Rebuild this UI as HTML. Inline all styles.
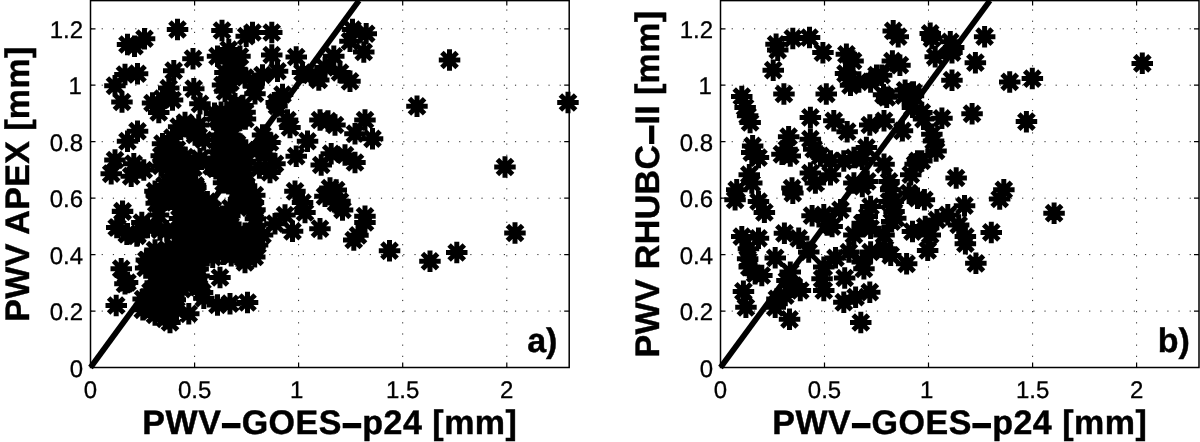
<!DOCTYPE html>
<html><head><meta charset="utf-8"><title>PWV scatter</title>
<style>
html,body{margin:0;padding:0;background:#fff;overflow:hidden}
svg{display:block;will-change:transform;-webkit-font-smoothing:antialiased}
text{text-rendering:geometricPrecision}
.t{font-family:"Liberation Sans",sans-serif;font-size:24px;fill:#000;stroke:#000;stroke-width:.3px}
.l{font-family:"Liberation Sans",sans-serif;font-size:34px;font-weight:bold;fill:#000;stroke:#000;stroke-width:.45px}
.d{stroke-width:1.5px}
.g{stroke:#000;stroke-width:1;stroke-dasharray:1.2 9.97;opacity:.85}
</style></head><body>
<svg width="1200" height="442" viewBox="0 0 1200 442">
<rect width="1200" height="442" fill="#fff"/>
<g>
<line x1="194.6" y1="0.6" x2="194.6" y2="367.5" class="g" stroke-dashoffset="2.3"/>
<line x1="298.6" y1="0.6" x2="298.6" y2="367.5" class="g" stroke-dashoffset="2.3"/>
<line x1="402.7" y1="0.6" x2="402.7" y2="367.5" class="g" stroke-dashoffset="2.3"/>
<line x1="506.8" y1="0.6" x2="506.8" y2="367.5" class="g" stroke-dashoffset="2.3"/>
<line x1="90.5" y1="311.1" x2="569.2" y2="311.1" class="g"/>
<line x1="90.5" y1="254.6" x2="569.2" y2="254.6" class="g"/>
<line x1="90.5" y1="198.2" x2="569.2" y2="198.2" class="g"/>
<line x1="90.5" y1="141.7" x2="569.2" y2="141.7" class="g"/>
<line x1="90.5" y1="85.2" x2="569.2" y2="85.2" class="g"/>
<line x1="90.5" y1="28.8" x2="569.2" y2="28.8" class="g"/>
<line x1="90.5" y1="367.5" x2="359.0" y2="0.6" stroke="#000" stroke-width="5.7"/>
<path d="M166.8 29.5h21.5M177.5 18.8v21.5M169.9 21.9l15.2 15.2M169.9 37.1l15.2 -15.2M133.8 38.8h21.5M144.5 28.0v21.5M136.9 31.1l15.2 15.2M136.9 46.4l15.2 -15.2M116.8 44.5h21.5M127.5 33.8v21.5M119.9 36.9l15.2 15.2M119.9 52.1l15.2 -15.2M123.8 46.2h21.5M134.5 35.5v21.5M126.9 38.6l15.2 15.2M126.9 53.9l15.2 -15.2M211.2 30.5h21.5M222.0 19.8v21.5M214.4 22.9l15.2 15.2M214.4 38.1l15.2 -15.2M235.5 36.2h21.5M246.2 25.5v21.5M238.6 28.6l15.2 15.2M238.6 43.9l15.2 -15.2M241.8 32.5h21.5M252.5 21.8v21.5M244.9 24.9l15.2 15.2M244.9 40.1l15.2 -15.2M261.0 32.5h21.5M271.8 21.8v21.5M264.1 24.9l15.2 15.2M264.1 40.1l15.2 -15.2M182.2 58.8h21.5M193.0 48.0v21.5M185.4 51.1l15.2 15.2M185.4 66.4l15.2 -15.2M163.0 70.8h21.5M173.8 60.0v21.5M166.1 63.1l15.2 15.2M166.1 78.4l15.2 -15.2M126.8 73.8h21.5M137.5 63.0v21.5M129.9 66.1l15.2 15.2M129.9 81.4l15.2 -15.2M114.2 74.5h21.5M125.0 63.8v21.5M117.4 66.9l15.2 15.2M117.4 82.1l15.2 -15.2M104.2 85.8h21.5M115.0 75.0v21.5M107.4 78.1l15.2 15.2M107.4 93.4l15.2 -15.2M111.2 102.0h21.5M122.0 91.2v21.5M114.4 94.4l15.2 15.2M114.4 109.6l15.2 -15.2M158.0 88.0h21.5M168.8 77.2v21.5M161.1 80.4l15.2 15.2M161.1 95.6l15.2 -15.2M183.0 88.8h21.5M193.8 78.0v21.5M186.1 81.1l15.2 15.2M186.1 96.4l15.2 -15.2M141.8 103.0h21.5M152.5 92.2v21.5M144.9 95.4l15.2 15.2M144.9 110.6l15.2 -15.2M161.8 100.0h21.5M172.5 89.2v21.5M164.9 92.4l15.2 15.2M164.9 107.6l15.2 -15.2M151.8 98.8h21.5M162.5 88.0v21.5M154.9 91.1l15.2 15.2M154.9 106.4l15.2 -15.2M189.2 103.8h21.5M200.0 93.0v21.5M192.4 96.1l15.2 15.2M192.4 111.4l15.2 -15.2M218.0 49.5h21.5M228.8 38.8v21.5M221.1 41.9l15.2 15.2M221.1 57.1l15.2 -15.2M206.8 56.2h21.5M217.5 45.5v21.5M209.9 48.6l15.2 15.2M209.9 63.9l15.2 -15.2M229.2 56.2h21.5M240.0 45.5v21.5M232.4 48.6l15.2 15.2M232.4 63.9l15.2 -15.2M218.5 62.0h21.5M229.2 51.2v21.5M221.6 54.4l15.2 15.2M221.6 69.6l15.2 -15.2M214.2 72.5h21.5M225.0 61.8v21.5M217.4 64.9l15.2 15.2M217.4 80.1l15.2 -15.2M226.8 70.0h21.5M237.5 59.2v21.5M229.9 62.4l15.2 15.2M229.9 77.6l15.2 -15.2M211.8 85.0h21.5M222.5 74.2v21.5M214.9 77.4l15.2 15.2M214.9 92.6l15.2 -15.2M219.8 82.5h21.5M230.5 71.8v21.5M222.9 74.9l15.2 15.2M222.9 90.1l15.2 -15.2M234.2 77.5h21.5M245.0 66.8v21.5M237.4 69.9l15.2 15.2M237.4 85.1l15.2 -15.2M214.2 91.2h21.5M225.0 80.5v21.5M217.4 83.6l15.2 15.2M217.4 98.9l15.2 -15.2M243.0 86.2h21.5M253.8 75.5v21.5M246.1 78.6l15.2 15.2M246.1 93.9l15.2 -15.2M244.2 93.8h21.5M255.0 83.0v21.5M247.4 86.1l15.2 15.2M247.4 101.4l15.2 -15.2M251.8 75.0h21.5M262.5 64.2v21.5M254.9 67.4l15.2 15.2M254.9 82.6l15.2 -15.2M261.0 55.0h21.5M271.8 44.2v21.5M264.1 47.4l15.2 15.2M264.1 62.6l15.2 -15.2M266.8 71.2h21.5M277.5 60.5v21.5M269.9 63.6l15.2 15.2M269.9 78.9l15.2 -15.2M285.5 57.0h21.5M296.2 46.2v21.5M288.6 49.4l15.2 15.2M288.6 64.6l15.2 -15.2M291.8 72.5h21.5M302.5 61.8v21.5M294.9 64.9l15.2 15.2M294.9 80.1l15.2 -15.2M271.8 94.5h21.5M282.5 83.8v21.5M274.9 86.9l15.2 15.2M274.9 102.1l15.2 -15.2M265.5 102.5h21.5M276.2 91.8v21.5M268.6 94.9l15.2 15.2M268.6 110.1l15.2 -15.2M224.2 103.8h21.5M235.0 93.0v21.5M227.4 96.1l15.2 15.2M227.4 111.4l15.2 -15.2M232.2 105.5h21.5M243.0 94.8v21.5M235.4 97.9l15.2 15.2M235.4 113.1l15.2 -15.2M341.8 29.5h21.5M352.5 18.8v21.5M344.9 21.9l15.2 15.2M344.9 37.1l15.2 -15.2M355.5 33.8h21.5M366.2 23.0v21.5M358.6 26.1l15.2 15.2M358.6 41.4l15.2 -15.2M339.2 41.2h21.5M350.0 30.5v21.5M342.4 33.6l15.2 15.2M342.4 48.9l15.2 -15.2M353.0 52.0h21.5M363.8 41.2v21.5M356.1 44.4l15.2 15.2M356.1 59.6l15.2 -15.2M323.0 56.2h21.5M333.8 45.5v21.5M326.1 48.6l15.2 15.2M326.1 63.9l15.2 -15.2M314.2 67.5h21.5M325.0 56.8v21.5M317.4 59.9l15.2 15.2M317.4 75.1l15.2 -15.2M308.0 80.0h21.5M318.8 69.2v21.5M311.1 72.4l15.2 15.2M311.1 87.6l15.2 -15.2M329.2 72.5h21.5M340.0 61.8v21.5M332.4 64.9l15.2 15.2M332.4 80.1l15.2 -15.2M339.2 81.2h21.5M350.0 70.5v21.5M342.4 73.6l15.2 15.2M342.4 88.9l15.2 -15.2M300.5 75.0h21.5M311.2 64.2v21.5M303.6 67.4l15.2 15.2M303.6 82.6l15.2 -15.2M148.0 112.5h21.5M158.8 101.8v21.5M151.1 104.9l15.2 15.2M151.1 120.1l15.2 -15.2M126.8 131.2h21.5M137.5 120.5v21.5M129.9 123.6l15.2 15.2M129.9 138.9l15.2 -15.2M116.8 141.2h21.5M127.5 130.5v21.5M119.9 133.6l15.2 15.2M119.9 148.9l15.2 -15.2M104.2 160.0h21.5M115.0 149.2v21.5M107.4 152.4l15.2 15.2M107.4 167.6l15.2 -15.2M100.5 173.8h21.5M111.2 163.0v21.5M103.6 166.1l15.2 15.2M103.6 181.4l15.2 -15.2M123.0 163.8h21.5M133.8 153.0v21.5M126.1 156.1l15.2 15.2M126.1 171.4l15.2 -15.2M120.5 176.2h21.5M131.2 165.5v21.5M123.6 168.6l15.2 15.2M123.6 183.9l15.2 -15.2M133.0 170.0h21.5M143.8 159.2v21.5M136.1 162.4l15.2 15.2M136.1 177.6l15.2 -15.2M111.8 211.2h21.5M122.5 200.5v21.5M114.9 203.6l15.2 15.2M114.9 218.9l15.2 -15.2M144.2 191.2h21.5M155.0 180.5v21.5M147.4 183.6l15.2 15.2M147.4 198.9l15.2 -15.2M174.2 122.5h21.5M185.0 111.8v21.5M177.4 114.9l15.2 15.2M177.4 130.1l15.2 -15.2M161.8 137.5h21.5M172.5 126.8v21.5M164.9 129.9l15.2 15.2M164.9 145.1l15.2 -15.2M151.8 143.8h21.5M162.5 133.0v21.5M154.9 136.1l15.2 15.2M154.9 151.4l15.2 -15.2M184.2 135.0h21.5M195.0 124.2v21.5M187.4 127.4l15.2 15.2M187.4 142.6l15.2 -15.2M154.2 155.0h21.5M165.0 144.2v21.5M157.4 147.4l15.2 15.2M157.4 162.6l15.2 -15.2M189.2 158.8h21.5M200.0 148.0v21.5M192.4 151.1l15.2 15.2M192.4 166.4l15.2 -15.2M209.2 117.5h21.5M220.0 106.8v21.5M212.4 109.9l15.2 15.2M212.4 125.1l15.2 -15.2M229.2 120.0h21.5M240.0 109.2v21.5M232.4 112.4l15.2 15.2M232.4 127.6l15.2 -15.2M219.2 135.0h21.5M230.0 124.2v21.5M222.4 127.4l15.2 15.2M222.4 142.6l15.2 -15.2M276.8 120.0h21.5M287.5 109.2v21.5M279.9 112.4l15.2 15.2M279.9 127.6l15.2 -15.2M279.2 127.5h21.5M290.0 116.8v21.5M282.4 119.9l15.2 15.2M282.4 135.1l15.2 -15.2M251.8 135.0h21.5M262.5 124.2v21.5M254.9 127.4l15.2 15.2M254.9 142.6l15.2 -15.2M259.2 142.5h21.5M270.0 131.8v21.5M262.4 134.9l15.2 15.2M262.4 150.1l15.2 -15.2M296.8 141.2h21.5M307.5 130.5v21.5M299.9 133.6l15.2 15.2M299.9 148.9l15.2 -15.2M285.5 156.2h21.5M296.2 145.5v21.5M288.6 148.6l15.2 15.2M288.6 163.9l15.2 -15.2M264.2 163.8h21.5M275.0 153.0v21.5M267.4 156.1l15.2 15.2M267.4 171.4l15.2 -15.2M259.2 172.5h21.5M270.0 161.8v21.5M262.4 164.9l15.2 15.2M262.4 180.1l15.2 -15.2M309.2 120.0h21.5M320.0 109.2v21.5M312.4 112.4l15.2 15.2M312.4 127.6l15.2 -15.2M324.2 125.0h21.5M335.0 114.2v21.5M327.4 117.4l15.2 15.2M327.4 132.6l15.2 -15.2M354.2 120.0h21.5M365.0 109.2v21.5M357.4 112.4l15.2 15.2M357.4 127.6l15.2 -15.2M344.2 133.8h21.5M355.0 123.0v21.5M347.4 126.1l15.2 15.2M347.4 141.4l15.2 -15.2M361.8 138.8h21.5M372.5 128.0v21.5M364.9 131.1l15.2 15.2M364.9 146.4l15.2 -15.2M320.5 153.8h21.5M331.2 143.0v21.5M323.6 146.1l15.2 15.2M323.6 161.4l15.2 -15.2M334.2 155.0h21.5M345.0 144.2v21.5M337.4 147.4l15.2 15.2M337.4 162.6l15.2 -15.2M310.5 165.0h21.5M321.2 154.2v21.5M313.6 157.4l15.2 15.2M313.6 172.6l15.2 -15.2M344.2 162.5h21.5M355.0 151.8v21.5M347.4 154.9l15.2 15.2M347.4 170.1l15.2 -15.2M284.2 191.2h21.5M295.0 180.5v21.5M287.4 183.6l15.2 15.2M287.4 198.9l15.2 -15.2M291.8 202.5h21.5M302.5 191.8v21.5M294.9 194.9l15.2 15.2M294.9 210.1l15.2 -15.2M325.5 190.0h21.5M336.2 179.2v21.5M328.6 182.4l15.2 15.2M328.6 197.6l15.2 -15.2M314.2 196.2h21.5M325.0 185.5v21.5M317.4 188.6l15.2 15.2M317.4 203.9l15.2 -15.2M329.2 201.2h21.5M340.0 190.5v21.5M332.4 193.6l15.2 15.2M332.4 208.9l15.2 -15.2M331.8 210.0h21.5M342.5 199.2v21.5M334.9 202.4l15.2 15.2M334.9 217.6l15.2 -15.2M354.2 216.2h21.5M365.0 205.5v21.5M357.4 208.6l15.2 15.2M357.4 223.9l15.2 -15.2M274.2 215.0h21.5M285.0 204.2v21.5M277.4 207.4l15.2 15.2M277.4 222.6l15.2 -15.2M294.2 212.5h21.5M305.0 201.8v21.5M297.4 204.9l15.2 15.2M297.4 220.1l15.2 -15.2M105.5 305.5h21.5M116.2 294.8v21.5M108.6 297.9l15.2 15.2M108.6 313.1l15.2 -15.2M110.5 268.8h21.5M121.2 258.0v21.5M113.6 261.1l15.2 15.2M113.6 276.4l15.2 -15.2M116.8 282.5h21.5M127.5 271.8v21.5M119.9 274.9l15.2 15.2M119.9 290.1l15.2 -15.2M106.8 227.5h21.5M117.5 216.8v21.5M109.9 219.9l15.2 15.2M109.9 235.1l15.2 -15.2M116.8 233.8h21.5M127.5 223.0v21.5M119.9 226.1l15.2 15.2M119.9 241.4l15.2 -15.2M126.8 235.0h21.5M137.5 224.2v21.5M129.9 227.4l15.2 15.2M129.9 242.6l15.2 -15.2M136.8 227.5h21.5M147.5 216.8v21.5M139.9 219.9l15.2 15.2M139.9 235.1l15.2 -15.2M149.2 230.0h21.5M160.0 219.2v21.5M152.4 222.4l15.2 15.2M152.4 237.6l15.2 -15.2M144.2 250.0h21.5M155.0 239.2v21.5M147.4 242.4l15.2 15.2M147.4 257.6l15.2 -15.2M136.8 260.0h21.5M147.5 249.2v21.5M139.9 252.4l15.2 15.2M139.9 267.6l15.2 -15.2M234.2 262.5h21.5M245.0 251.8v21.5M237.4 254.9l15.2 15.2M237.4 270.1l15.2 -15.2M241.8 252.5h21.5M252.5 241.8v21.5M244.9 244.9l15.2 15.2M244.9 260.1l15.2 -15.2M246.8 245.0h21.5M257.5 234.2v21.5M249.9 237.4l15.2 15.2M249.9 252.6l15.2 -15.2M251.8 235.0h21.5M262.5 224.2v21.5M254.9 227.4l15.2 15.2M254.9 242.6l15.2 -15.2M209.2 277.5h21.5M220.0 266.8v21.5M212.4 269.9l15.2 15.2M212.4 285.1l15.2 -15.2M191.8 292.5h21.5M202.5 281.8v21.5M194.9 284.9l15.2 15.2M194.9 300.1l15.2 -15.2M186.8 285.0h21.5M197.5 274.2v21.5M189.9 277.4l15.2 15.2M189.9 292.6l15.2 -15.2M206.8 305.0h21.5M217.5 294.2v21.5M209.9 297.4l15.2 15.2M209.9 312.6l15.2 -15.2M219.2 303.8h21.5M230.0 293.0v21.5M222.4 296.1l15.2 15.2M222.4 311.4l15.2 -15.2M236.8 302.5h21.5M247.5 291.8v21.5M239.9 294.9l15.2 15.2M239.9 310.1l15.2 -15.2M178.0 313.8h21.5M188.8 303.0v21.5M181.1 306.1l15.2 15.2M181.1 321.4l15.2 -15.2M154.2 318.8h21.5M165.0 308.0v21.5M157.4 311.1l15.2 15.2M157.4 326.4l15.2 -15.2M144.2 315.0h21.5M155.0 304.2v21.5M147.4 307.4l15.2 15.2M147.4 322.6l15.2 -15.2M159.2 322.5h21.5M170.0 311.8v21.5M162.4 314.9l15.2 15.2M162.4 330.1l15.2 -15.2M281.8 231.2h21.5M292.5 220.5v21.5M284.9 223.6l15.2 15.2M284.9 238.9l15.2 -15.2M309.2 228.8h21.5M320.0 218.0v21.5M312.4 221.1l15.2 15.2M312.4 236.4l15.2 -15.2M343.0 240.0h21.5M353.8 229.2v21.5M346.1 232.4l15.2 15.2M346.1 247.6l15.2 -15.2M354.2 222.5h21.5M365.0 211.8v21.5M357.4 214.9l15.2 15.2M357.4 230.1l15.2 -15.2M264.2 223.8h21.5M275.0 213.0v21.5M267.4 216.1l15.2 15.2M267.4 231.4l15.2 -15.2M438.8 60.0h21.5M449.5 49.2v21.5M441.9 52.4l15.2 15.2M441.9 67.6l15.2 -15.2M406.2 106.2h21.5M417.0 95.5v21.5M409.4 98.6l15.2 15.2M409.4 113.9l15.2 -15.2M557.2 102.5h21.5M568.0 91.8v21.5M560.4 94.9l15.2 15.2M560.4 110.1l15.2 -15.2M494.2 167.0h21.5M505.0 156.2v21.5M497.4 159.4l15.2 15.2M497.4 174.6l15.2 -15.2M378.8 250.8h21.5M389.5 240.0v21.5M381.9 243.1l15.2 15.2M381.9 258.4l15.2 -15.2M419.2 261.2h21.5M430.0 250.5v21.5M422.4 253.6l15.2 15.2M422.4 268.9l15.2 -15.2M446.0 252.5h21.5M456.8 241.8v21.5M449.1 244.9l15.2 15.2M449.1 260.1l15.2 -15.2M504.2 233.0h21.5M515.0 222.2v21.5M507.4 225.4l15.2 15.2M507.4 240.6l15.2 -15.2M106.0 227.5h21.5M116.7 216.8v21.5M109.1 219.9l15.2 15.2M109.1 235.1l15.2 -15.2M116.0 234.2h21.5M126.8 223.4v21.5M119.2 226.6l15.2 15.2M119.2 241.8l15.2 -15.2M126.1 235.9h21.5M136.8 225.2v21.5M129.2 228.3l15.2 15.2M129.2 243.5l15.2 -15.2M131.1 222.5h21.5M141.8 211.8v21.5M134.2 214.9l15.2 15.2M134.2 230.1l15.2 -15.2M111.8 211.6h21.5M122.6 200.8v21.5M115.0 204.0l15.2 15.2M115.0 219.2l15.2 -15.2M193.1 298.2h21.5M203.8 287.4v21.5M196.2 290.6l15.2 15.2M196.2 305.8l15.2 -15.2M114.2 283.8h21.5M125.0 273.0v21.5M117.4 276.1l15.2 15.2M117.4 291.4l15.2 -15.2M177.9 128.4h21.5M188.7 117.7v21.5M181.1 120.8l15.2 15.2M181.1 136.0l15.2 -15.2M167.9 126.7h21.5M178.7 116.0v21.5M171.1 119.1l15.2 15.2M171.1 134.3l15.2 -15.2M187.9 125.0h21.5M198.7 114.2v21.5M191.1 117.4l15.2 15.2M191.1 132.6l15.2 -15.2M193.1 140.0h21.5M203.8 129.2v21.5M196.2 132.4l15.2 15.2M196.2 147.6l15.2 -15.2M147.8 215.0h21.5M158.6 204.2v21.5M151.0 207.4l15.2 15.2M151.0 222.6l15.2 -15.2M254.6 155.0h21.5M265.3 144.2v21.5M257.7 147.4l15.2 15.2M257.7 162.6l15.2 -15.2M248.6 168.0h21.5M259.4 157.2v21.5M251.8 160.4l15.2 15.2M251.8 175.6l15.2 -15.2M247.2 150.0h21.5M258.0 139.2v21.5M250.4 142.4l15.2 15.2M250.4 157.6l15.2 -15.2M317.2 121.0h21.5M328.0 110.2v21.5M320.4 113.4l15.2 15.2M320.4 128.6l15.2 -15.2M319.2 188.0h21.5M330.0 177.2v21.5M322.4 180.4l15.2 15.2M322.4 195.6l15.2 -15.2M325.2 203.0h21.5M336.0 192.2v21.5M328.4 195.4l15.2 15.2M328.4 210.6l15.2 -15.2M266.2 106.0h21.5M277.0 95.2v21.5M269.4 98.4l15.2 15.2M269.4 113.6l15.2 -15.2M347.2 235.3h21.5M358.0 224.6v21.5M350.4 227.7l15.2 15.2M350.4 242.9l15.2 -15.2M203.8 113.4h21.5M214.5 102.6v21.5M206.9 105.8l15.2 15.2M206.9 121.0l15.2 -15.2M206.3 119.0h21.5M217.1 108.3v21.5M209.5 111.4l15.2 15.2M209.5 126.6l15.2 -15.2M206.6 151.7h21.5M217.3 141.0v21.5M209.7 144.1l15.2 15.2M209.7 159.3l15.2 -15.2M206.3 158.0h21.5M217.0 147.3v21.5M209.4 150.4l15.2 15.2M209.4 165.6l15.2 -15.2M205.0 168.9h21.5M215.8 158.1v21.5M208.2 161.3l15.2 15.2M208.2 176.5l15.2 -15.2M210.4 112.2h21.5M221.1 101.4v21.5M213.5 104.6l15.2 15.2M213.5 119.8l15.2 -15.2M214.0 119.5h21.5M224.8 108.8v21.5M217.2 111.9l15.2 15.2M217.2 127.1l15.2 -15.2M211.1 127.7h21.5M221.9 116.9v21.5M214.3 120.1l15.2 15.2M214.3 135.3l15.2 -15.2M210.4 134.9h21.5M221.1 124.1v21.5M213.5 127.3l15.2 15.2M213.5 142.5l15.2 -15.2M212.0 144.0h21.5M222.8 133.2v21.5M215.2 136.4l15.2 15.2M215.2 151.6l15.2 -15.2M211.2 150.9h21.5M221.9 140.2v21.5M214.3 143.3l15.2 15.2M214.3 158.5l15.2 -15.2M211.1 159.8h21.5M221.9 149.1v21.5M214.3 152.2l15.2 15.2M214.3 167.4l15.2 -15.2M211.4 166.1h21.5M222.2 155.3v21.5M214.6 158.5l15.2 15.2M214.6 173.7l15.2 -15.2M213.6 176.2h21.5M224.4 165.5v21.5M216.7 168.6l15.2 15.2M216.7 183.8l15.2 -15.2M212.8 182.7h21.5M223.6 172.0v21.5M216.0 175.1l15.2 15.2M216.0 190.3l15.2 -15.2M221.2 113.4h21.5M232.0 102.7v21.5M224.4 105.8l15.2 15.2M224.4 121.0l15.2 -15.2M217.7 119.3h21.5M228.5 108.6v21.5M220.9 111.7l15.2 15.2M220.9 126.9l15.2 -15.2M220.1 128.8h21.5M230.9 118.1v21.5M223.3 121.2l15.2 15.2M223.3 136.4l15.2 -15.2M221.0 135.7h21.5M231.7 124.9v21.5M224.1 128.1l15.2 15.2M224.1 143.3l15.2 -15.2M220.6 144.7h21.5M231.3 133.9v21.5M223.7 137.1l15.2 15.2M223.7 152.3l15.2 -15.2M218.5 152.4h21.5M229.2 141.6v21.5M221.6 144.7l15.2 15.2M221.6 160.0l15.2 -15.2M220.8 161.4h21.5M231.5 150.6v21.5M223.9 153.8l15.2 15.2M223.9 169.0l15.2 -15.2M219.3 168.4h21.5M230.0 157.6v21.5M222.4 160.8l15.2 15.2M222.4 176.0l15.2 -15.2M217.4 175.0h21.5M228.1 164.2v21.5M220.5 167.4l15.2 15.2M220.5 182.6l15.2 -15.2M220.4 183.7h21.5M231.2 172.9v21.5M223.6 176.1l15.2 15.2M223.6 191.3l15.2 -15.2M224.9 112.2h21.5M235.7 101.4v21.5M228.1 104.6l15.2 15.2M228.1 119.8l15.2 -15.2M227.1 120.7h21.5M237.8 109.9v21.5M230.2 113.1l15.2 15.2M230.2 128.3l15.2 -15.2M226.3 143.6h21.5M237.1 132.8v21.5M229.5 136.0l15.2 15.2M229.5 151.2l15.2 -15.2M226.2 150.1h21.5M237.0 139.4v21.5M229.4 142.5l15.2 15.2M229.4 157.7l15.2 -15.2M224.4 160.8h21.5M235.2 150.1v21.5M227.6 153.2l15.2 15.2M227.6 168.4l15.2 -15.2M228.2 168.4h21.5M238.9 157.6v21.5M231.3 160.8l15.2 15.2M231.3 176.0l15.2 -15.2M225.8 174.7h21.5M236.6 163.9v21.5M229.0 167.1l15.2 15.2M229.0 182.3l15.2 -15.2M226.3 185.9h21.5M237.0 175.2v21.5M229.4 178.3l15.2 15.2M229.4 193.5l15.2 -15.2M234.3 112.2h21.5M245.1 101.4v21.5M237.5 104.6l15.2 15.2M237.5 119.8l15.2 -15.2M234.7 118.9h21.5M245.4 108.2v21.5M237.8 111.3l15.2 15.2M237.8 126.5l15.2 -15.2M235.1 150.0h21.5M245.8 139.3v21.5M238.2 142.4l15.2 15.2M238.2 157.6l15.2 -15.2M234.4 161.3h21.5M245.1 150.5v21.5M237.5 153.7l15.2 15.2M237.5 168.9l15.2 -15.2M234.8 169.0h21.5M245.5 158.2v21.5M237.9 161.4l15.2 15.2M237.9 176.6l15.2 -15.2M233.5 183.7h21.5M244.2 173.0v21.5M236.6 176.1l15.2 15.2M236.6 191.3l15.2 -15.2M150.5 155.8h21.5M161.3 145.0v21.5M153.7 148.2l15.2 15.2M153.7 163.4l15.2 -15.2M150.3 165.9h21.5M161.0 155.2v21.5M153.4 158.3l15.2 15.2M153.4 173.5l15.2 -15.2M159.2 147.8h21.5M169.9 137.1v21.5M162.3 140.2l15.2 15.2M162.3 155.4l15.2 -15.2M156.9 155.9h21.5M167.6 145.2v21.5M160.0 148.3l15.2 15.2M160.0 163.5l15.2 -15.2M157.5 166.3h21.5M168.2 155.6v21.5M160.6 158.7l15.2 15.2M160.6 173.9l15.2 -15.2M160.2 176.2h21.5M170.9 165.4v21.5M163.3 168.6l15.2 15.2M163.3 183.8l15.2 -15.2M159.9 185.3h21.5M170.7 174.5v21.5M163.1 177.7l15.2 15.2M163.1 192.9l15.2 -15.2M166.3 149.4h21.5M177.0 138.6v21.5M169.4 141.8l15.2 15.2M169.4 157.0l15.2 -15.2M167.9 155.3h21.5M178.7 144.6v21.5M171.1 147.7l15.2 15.2M171.1 162.9l15.2 -15.2M165.3 164.1h21.5M176.1 153.3v21.5M168.5 156.5l15.2 15.2M168.5 171.7l15.2 -15.2M168.3 174.0h21.5M179.0 163.2v21.5M171.4 166.4l15.2 15.2M171.4 181.6l15.2 -15.2M165.7 184.5h21.5M176.4 173.7v21.5M168.8 176.9l15.2 15.2M168.8 192.1l15.2 -15.2M174.4 157.1h21.5M185.1 146.4v21.5M177.5 149.5l15.2 15.2M177.5 164.7l15.2 -15.2M174.4 165.1h21.5M185.2 154.3v21.5M177.6 157.5l15.2 15.2M177.6 172.7l15.2 -15.2M176.6 174.8h21.5M187.3 164.1v21.5M179.7 167.2l15.2 15.2M179.7 182.4l15.2 -15.2M175.0 183.9h21.5M185.8 173.1v21.5M178.2 176.3l15.2 15.2M178.2 191.5l15.2 -15.2M182.7 167.6h21.5M193.4 156.8v21.5M185.8 160.0l15.2 15.2M185.8 175.2l15.2 -15.2M184.7 185.3h21.5M195.4 174.5v21.5M187.8 177.7l15.2 15.2M187.8 192.9l15.2 -15.2M200.8 166.3h21.5M211.6 155.6v21.5M204.0 158.7l15.2 15.2M204.0 173.9l15.2 -15.2M145.5 195.2h21.5M156.2 184.5v21.5M148.6 187.6l15.2 15.2M148.6 202.8l15.2 -15.2M145.5 203.3h21.5M156.2 192.6v21.5M148.6 195.7l15.2 15.2M148.6 210.9l15.2 -15.2M147.1 256.0h21.5M157.8 245.3v21.5M150.2 248.4l15.2 15.2M150.2 263.6l15.2 -15.2M153.8 185.4h21.5M164.6 174.6v21.5M157.0 177.8l15.2 15.2M157.0 193.0l15.2 -15.2M153.2 194.5h21.5M163.9 183.7v21.5M156.3 186.9l15.2 15.2M156.3 202.1l15.2 -15.2M154.1 200.3h21.5M164.8 189.6v21.5M157.2 192.7l15.2 15.2M157.2 207.9l15.2 -15.2M155.9 230.7h21.5M166.7 220.0v21.5M159.1 223.1l15.2 15.2M159.1 238.3l15.2 -15.2M156.3 249.4h21.5M167.0 238.6v21.5M159.4 241.8l15.2 15.2M159.4 257.0l15.2 -15.2M153.7 254.9h21.5M164.4 244.1v21.5M156.8 247.3l15.2 15.2M156.8 262.5l15.2 -15.2M163.1 187.4h21.5M173.9 176.6v21.5M166.3 179.7l15.2 15.2M166.3 195.0l15.2 -15.2M164.1 193.2h21.5M174.9 182.4v21.5M167.3 185.6l15.2 15.2M167.3 200.8l15.2 -15.2M163.9 202.3h21.5M174.7 191.6v21.5M167.1 194.7l15.2 15.2M167.1 209.9l15.2 -15.2M164.1 231.5h21.5M174.8 220.8v21.5M167.2 223.9l15.2 15.2M167.2 239.1l15.2 -15.2M163.8 247.7h21.5M174.5 236.9v21.5M166.9 240.1l15.2 15.2M166.9 255.3l15.2 -15.2M161.8 255.2h21.5M172.5 244.4v21.5M164.9 247.6l15.2 15.2M164.9 262.8l15.2 -15.2M172.0 186.4h21.5M182.7 175.7v21.5M175.1 178.8l15.2 15.2M175.1 194.0l15.2 -15.2M172.3 195.3h21.5M183.1 184.6v21.5M175.5 187.7l15.2 15.2M175.5 202.9l15.2 -15.2M169.0 201.8h21.5M179.8 191.0v21.5M172.2 194.2l15.2 15.2M172.2 209.4l15.2 -15.2M168.9 207.5h21.5M179.7 196.7v21.5M172.1 199.9l15.2 15.2M172.1 215.1l15.2 -15.2M168.8 218.6h21.5M179.5 207.8v21.5M171.9 211.0l15.2 15.2M171.9 226.2l15.2 -15.2M171.7 226.2h21.5M182.4 215.5v21.5M174.8 218.6l15.2 15.2M174.8 233.8l15.2 -15.2M169.9 233.1h21.5M180.6 222.4v21.5M173.0 225.5l15.2 15.2M173.0 240.7l15.2 -15.2M171.6 240.0h21.5M182.4 229.2v21.5M174.8 232.4l15.2 15.2M174.8 247.6l15.2 -15.2M170.8 247.1h21.5M181.5 236.4v21.5M173.9 239.5l15.2 15.2M173.9 254.7l15.2 -15.2M168.8 255.1h21.5M179.6 244.3v21.5M172.0 247.5l15.2 15.2M172.0 262.7l15.2 -15.2M180.1 186.3h21.5M190.9 175.5v21.5M183.3 178.7l15.2 15.2M183.3 193.9l15.2 -15.2M180.3 193.6h21.5M191.0 182.9v21.5M183.4 186.0l15.2 15.2M183.4 201.2l15.2 -15.2M177.7 202.7h21.5M188.4 192.0v21.5M180.8 195.1l15.2 15.2M180.8 210.3l15.2 -15.2M179.9 207.4h21.5M190.6 196.6v21.5M183.0 199.8l15.2 15.2M183.0 215.0l15.2 -15.2M179.3 215.5h21.5M190.0 204.7v21.5M182.4 207.9l15.2 15.2M182.4 223.1l15.2 -15.2M177.0 226.4h21.5M187.8 215.7v21.5M180.2 218.8l15.2 15.2M180.2 234.0l15.2 -15.2M176.7 231.6h21.5M187.5 220.9v21.5M179.9 224.0l15.2 15.2M179.9 239.2l15.2 -15.2M180.5 240.1h21.5M191.3 229.4v21.5M183.7 232.5l15.2 15.2M183.7 247.7l15.2 -15.2M177.0 246.9h21.5M187.8 236.1v21.5M180.2 239.3l15.2 15.2M180.2 254.5l15.2 -15.2M177.5 257.0h21.5M188.3 246.2v21.5M180.7 249.4l15.2 15.2M180.7 264.6l15.2 -15.2M185.1 187.6h21.5M195.8 176.9v21.5M188.2 180.0l15.2 15.2M188.2 195.2l15.2 -15.2M186.2 195.7h21.5M196.9 184.9v21.5M189.3 188.1l15.2 15.2M189.3 203.3l15.2 -15.2M188.3 200.7h21.5M199.1 190.0v21.5M191.5 193.1l15.2 15.2M191.5 208.3l15.2 -15.2M185.7 209.2h21.5M196.4 198.5v21.5M188.8 201.6l15.2 15.2M188.8 216.8l15.2 -15.2M185.1 217.7h21.5M195.8 207.0v21.5M188.2 210.1l15.2 15.2M188.2 225.3l15.2 -15.2M184.8 222.9h21.5M195.6 212.2v21.5M188.0 215.3l15.2 15.2M188.0 230.5l15.2 -15.2M188.6 231.8h21.5M199.3 221.1v21.5M191.7 224.2l15.2 15.2M191.7 239.5l15.2 -15.2M187.1 240.2h21.5M197.8 229.5v21.5M190.2 232.6l15.2 15.2M190.2 247.8l15.2 -15.2M185.9 246.5h21.5M196.7 235.7v21.5M189.1 238.9l15.2 15.2M189.1 254.1l15.2 -15.2M188.3 257.9h21.5M199.1 247.1v21.5M191.5 250.3l15.2 15.2M191.5 265.5l15.2 -15.2M196.7 201.7h21.5M207.4 191.0v21.5M199.8 194.1l15.2 15.2M199.8 209.3l15.2 -15.2M195.5 210.0h21.5M206.3 199.2v21.5M198.7 202.4l15.2 15.2M198.7 217.6l15.2 -15.2M193.8 217.3h21.5M204.5 206.5v21.5M196.9 209.7l15.2 15.2M196.9 224.9l15.2 -15.2M194.0 223.9h21.5M204.7 213.1v21.5M197.1 216.3l15.2 15.2M197.1 231.5l15.2 -15.2M193.1 231.8h21.5M203.8 221.0v21.5M196.2 224.2l15.2 15.2M196.2 239.4l15.2 -15.2M196.7 240.2h21.5M207.4 229.5v21.5M199.8 232.6l15.2 15.2M199.8 247.8l15.2 -15.2M195.4 248.8h21.5M206.1 238.0v21.5M198.5 241.2l15.2 15.2M198.5 256.4l15.2 -15.2M196.5 255.6h21.5M207.3 244.8v21.5M199.7 248.0l15.2 15.2M199.7 263.2l15.2 -15.2M202.2 209.5h21.5M212.9 198.8v21.5M205.3 201.9l15.2 15.2M205.3 217.1l15.2 -15.2M203.1 217.5h21.5M213.9 206.7v21.5M206.3 209.9l15.2 15.2M206.3 225.1l15.2 -15.2M201.8 223.0h21.5M212.6 212.2v21.5M205.0 215.4l15.2 15.2M205.0 230.6l15.2 -15.2M201.8 231.0h21.5M212.6 220.2v21.5M205.0 223.4l15.2 15.2M205.0 238.6l15.2 -15.2M203.0 238.7h21.5M213.8 228.0v21.5M206.2 231.1l15.2 15.2M206.2 246.3l15.2 -15.2M201.1 248.8h21.5M211.9 238.0v21.5M204.3 241.2l15.2 15.2M204.3 256.4l15.2 -15.2M202.0 257.2h21.5M212.7 246.4v21.5M205.1 249.6l15.2 15.2M205.1 264.8l15.2 -15.2M212.0 219.1h21.5M222.8 208.3v21.5M215.2 211.4l15.2 15.2M215.2 226.7l15.2 -15.2M212.2 224.2h21.5M223.0 213.4v21.5M215.4 216.6l15.2 15.2M215.4 231.8l15.2 -15.2M209.3 232.7h21.5M220.1 222.0v21.5M212.5 225.1l15.2 15.2M212.5 240.3l15.2 -15.2M212.6 239.6h21.5M223.3 228.9v21.5M215.7 232.0l15.2 15.2M215.7 247.2l15.2 -15.2M212.5 246.8h21.5M223.2 236.0v21.5M215.6 239.2l15.2 15.2M215.6 254.4l15.2 -15.2M212.6 254.1h21.5M223.3 243.4v21.5M215.7 246.5l15.2 15.2M215.7 261.7l15.2 -15.2M219.8 208.0h21.5M230.5 197.3v21.5M222.9 200.4l15.2 15.2M222.9 215.6l15.2 -15.2M218.7 215.7h21.5M229.5 205.0v21.5M221.9 208.1l15.2 15.2M221.9 223.3l15.2 -15.2M219.9 225.6h21.5M230.6 214.8v21.5M223.0 218.0l15.2 15.2M223.0 233.2l15.2 -15.2M218.0 230.9h21.5M228.8 220.2v21.5M221.2 223.3l15.2 15.2M221.2 238.5l15.2 -15.2M220.9 241.7h21.5M231.6 230.9v21.5M224.0 234.1l15.2 15.2M224.0 249.3l15.2 -15.2M219.2 248.4h21.5M229.9 237.6v21.5M222.3 240.8l15.2 15.2M222.3 256.0l15.2 -15.2M220.4 255.8h21.5M231.2 245.1v21.5M223.6 248.2l15.2 15.2M223.6 263.4l15.2 -15.2M226.7 185.4h21.5M237.4 174.6v21.5M229.8 177.8l15.2 15.2M229.8 193.0l15.2 -15.2M226.1 191.9h21.5M236.9 181.1v21.5M229.3 184.3l15.2 15.2M229.3 199.5l15.2 -15.2M227.7 201.2h21.5M238.4 190.5v21.5M230.8 193.6l15.2 15.2M230.8 208.8l15.2 -15.2M227.4 207.6h21.5M238.1 196.8v21.5M230.5 200.0l15.2 15.2M230.5 215.2l15.2 -15.2M228.4 232.3h21.5M239.1 221.5v21.5M231.5 224.7l15.2 15.2M231.5 239.9l15.2 -15.2M226.7 240.9h21.5M237.4 230.1v21.5M229.8 233.3l15.2 15.2M229.8 248.5l15.2 -15.2M226.0 246.3h21.5M236.8 235.5v21.5M229.2 238.7l15.2 15.2M229.2 253.9l15.2 -15.2M227.2 256.0h21.5M237.9 245.3v21.5M230.3 248.4l15.2 15.2M230.3 263.6l15.2 -15.2M235.8 185.8h21.5M246.5 175.0v21.5M238.9 178.2l15.2 15.2M238.9 193.4l15.2 -15.2M235.9 194.7h21.5M246.7 184.0v21.5M239.1 187.1l15.2 15.2M239.1 202.3l15.2 -15.2M234.1 201.5h21.5M244.9 190.8v21.5M237.3 193.9l15.2 15.2M237.3 209.1l15.2 -15.2M234.3 233.3h21.5M245.0 222.5v21.5M237.4 225.7l15.2 15.2M237.4 240.9l15.2 -15.2M233.4 238.7h21.5M244.1 228.0v21.5M236.5 231.1l15.2 15.2M236.5 246.3l15.2 -15.2M235.2 249.7h21.5M246.0 239.0v21.5M238.4 242.1l15.2 15.2M238.4 257.3l15.2 -15.2M233.8 257.1h21.5M244.6 246.3v21.5M237.0 249.5l15.2 15.2M237.0 264.7l15.2 -15.2M244.0 195.2h21.5M254.8 184.4v21.5M247.2 187.6l15.2 15.2M247.2 202.8l15.2 -15.2M242.7 202.4h21.5M253.5 191.6v21.5M245.9 194.8l15.2 15.2M245.9 210.0l15.2 -15.2M244.2 209.7h21.5M254.9 199.0v21.5M247.3 202.1l15.2 15.2M247.3 217.3l15.2 -15.2M244.7 218.7h21.5M255.4 207.9v21.5M247.8 211.1l15.2 15.2M247.8 226.3l15.2 -15.2M245.1 225.2h21.5M255.8 214.4v21.5M248.2 217.6l15.2 15.2M248.2 232.8l15.2 -15.2M242.0 231.7h21.5M252.7 220.9v21.5M245.1 224.1l15.2 15.2M245.1 239.3l15.2 -15.2M242.1 240.7h21.5M252.9 230.0v21.5M245.3 233.1l15.2 15.2M245.3 248.3l15.2 -15.2M244.3 246.4h21.5M255.0 235.7v21.5M247.4 238.8l15.2 15.2M247.4 254.0l15.2 -15.2M244.0 256.9h21.5M254.7 246.1v21.5M247.1 249.3l15.2 15.2M247.1 264.5l15.2 -15.2M135.6 260.1h21.5M146.4 249.3v21.5M138.8 252.5l15.2 15.2M138.8 267.7l15.2 -15.2M134.9 267.9h21.5M145.7 257.2v21.5M138.1 260.3l15.2 15.2M138.1 275.5l15.2 -15.2M146.6 258.6h21.5M157.3 247.8v21.5M149.7 251.0l15.2 15.2M149.7 266.2l15.2 -15.2M145.9 268.4h21.5M156.6 257.6v21.5M149.0 260.8l15.2 15.2M149.0 276.0l15.2 -15.2M145.4 274.8h21.5M156.1 264.1v21.5M148.5 267.2l15.2 15.2M148.5 282.4l15.2 -15.2M144.5 282.7h21.5M155.3 271.9v21.5M147.7 275.1l15.2 15.2M147.7 290.3l15.2 -15.2M146.6 287.5h21.5M157.4 276.8v21.5M149.8 279.9l15.2 15.2M149.8 295.1l15.2 -15.2M154.5 259.7h21.5M165.2 249.0v21.5M157.6 252.1l15.2 15.2M157.6 267.3l15.2 -15.2M151.9 266.3h21.5M162.7 255.6v21.5M155.1 258.7l15.2 15.2M155.1 273.9l15.2 -15.2M151.8 275.6h21.5M162.5 264.9v21.5M154.9 268.0l15.2 15.2M154.9 283.2l15.2 -15.2M155.1 279.5h21.5M165.8 268.7v21.5M158.2 271.9l15.2 15.2M158.2 287.1l15.2 -15.2M153.7 287.6h21.5M164.4 276.9v21.5M156.8 280.0l15.2 15.2M156.8 295.2l15.2 -15.2M160.2 259.2h21.5M171.0 248.4v21.5M163.4 251.6l15.2 15.2M163.4 266.8l15.2 -15.2M160.7 268.0h21.5M171.5 257.2v21.5M163.9 260.4l15.2 15.2M163.9 275.6l15.2 -15.2M159.8 272.8h21.5M170.5 262.0v21.5M162.9 265.2l15.2 15.2M162.9 280.4l15.2 -15.2M161.5 279.1h21.5M172.3 268.3v21.5M164.7 271.5l15.2 15.2M164.7 286.7l15.2 -15.2M162.3 288.4h21.5M173.0 277.7v21.5M165.4 280.8l15.2 15.2M165.4 296.0l15.2 -15.2M171.6 258.8h21.5M182.3 248.1v21.5M174.7 251.2l15.2 15.2M174.7 266.4l15.2 -15.2M169.4 267.2h21.5M180.1 256.4v21.5M172.5 259.6l15.2 15.2M172.5 274.8l15.2 -15.2M169.3 274.3h21.5M180.1 263.6v21.5M172.5 266.7l15.2 15.2M172.5 281.9l15.2 -15.2M169.3 281.7h21.5M180.0 271.0v21.5M172.4 274.1l15.2 15.2M172.4 289.3l15.2 -15.2M171.4 289.2h21.5M182.2 278.5v21.5M174.6 281.6l15.2 15.2M174.6 296.8l15.2 -15.2M180.6 260.2h21.5M191.4 249.4v21.5M183.8 252.6l15.2 15.2M183.8 267.8l15.2 -15.2M178.7 268.4h21.5M189.5 257.7v21.5M181.9 260.8l15.2 15.2M181.9 276.0l15.2 -15.2M179.8 274.3h21.5M190.6 263.5v21.5M183.0 266.7l15.2 15.2M183.0 281.9l15.2 -15.2M178.3 280.1h21.5M189.0 269.4v21.5M181.4 272.5l15.2 15.2M181.4 287.7l15.2 -15.2M185.7 261.0h21.5M196.5 250.2v21.5M188.9 253.4l15.2 15.2M188.9 268.6l15.2 -15.2M187.4 268.9h21.5M198.2 258.1v21.5M190.6 261.3l15.2 15.2M190.6 276.5l15.2 -15.2M188.3 275.9h21.5M199.0 265.1v21.5M191.4 268.3l15.2 15.2M191.4 283.5l15.2 -15.2M185.8 281.0h21.5M196.5 270.3v21.5M188.9 273.4l15.2 15.2M188.9 288.6l15.2 -15.2M187.5 287.2h21.5M198.3 276.5v21.5M190.7 279.6l15.2 15.2M190.7 294.8l15.2 -15.2M132.4 299.0h21.5M143.1 288.3v21.5M135.5 291.4l15.2 15.2M135.5 306.6l15.2 -15.2M132.0 309.8h21.5M142.8 299.0v21.5M135.2 302.2l15.2 15.2M135.2 317.4l15.2 -15.2M139.7 291.6h21.5M150.5 280.8v21.5M142.9 284.0l15.2 15.2M142.9 299.2l15.2 -15.2M141.6 301.7h21.5M152.4 291.0v21.5M144.8 294.1l15.2 15.2M144.8 309.3l15.2 -15.2M140.5 310.6h21.5M151.2 299.8v21.5M143.6 303.0l15.2 15.2M143.6 318.2l15.2 -15.2M148.3 290.8h21.5M159.0 280.1v21.5M151.4 283.2l15.2 15.2M151.4 298.4l15.2 -15.2M146.8 300.1h21.5M157.5 289.4v21.5M149.9 292.5l15.2 15.2M149.9 307.7l15.2 -15.2M149.1 311.5h21.5M159.9 300.8v21.5M152.3 303.9l15.2 15.2M152.3 319.1l15.2 -15.2M158.3 292.0h21.5M169.1 281.3v21.5M161.5 284.4l15.2 15.2M161.5 299.6l15.2 -15.2M158.9 300.8h21.5M169.7 290.1v21.5M162.1 293.2l15.2 15.2M162.1 308.4l15.2 -15.2M158.3 309.6h21.5M169.1 298.9v21.5M161.5 302.0l15.2 15.2M161.5 317.2l15.2 -15.2M164.5 299.7h21.5M175.2 288.9v21.5M167.6 292.1l15.2 15.2M167.6 307.3l15.2 -15.2M165.7 310.1h21.5M176.5 299.4v21.5M168.9 302.5l15.2 15.2M168.9 317.7l15.2 -15.2" fill="none" stroke="#000" stroke-width="5"/>
<rect x="90.5" y="0.6" width="478.70000000000005" height="366.9" fill="none" stroke="#000" stroke-width="1.5"/>
<path d="M194.6 367.5v-5M194.6 0.6v5M298.6 367.5v-5M298.6 0.6v5M402.7 367.5v-5M402.7 0.6v5M506.8 367.5v-5M506.8 0.6v5M90.5 311.1h5M569.2 311.1h-5M90.5 254.6h5M569.2 254.6h-5M90.5 198.2h5M569.2 198.2h-5M90.5 141.7h5M569.2 141.7h-5M90.5 85.2h5M569.2 85.2h-5M90.5 28.8h5M569.2 28.8h-5" stroke="#000" stroke-width="1.2" fill="none"/>
<text x="90.5" y="397.6" class="t" text-anchor="middle">0</text>
<text x="194.6" y="397.6" class="t" text-anchor="middle">0.5</text>
<text x="296.8" y="397.6" class="t" text-anchor="middle">1</text>
<text x="402.7" y="397.6" class="t" text-anchor="middle">1.5</text>
<text x="506.8" y="397.6" class="t" text-anchor="middle">2</text>
<text x="83.0" y="376.5" class="t" text-anchor="end">0</text>
<text x="83.0" y="320.1" class="t" text-anchor="end">0.2</text>
<text x="83.0" y="263.6" class="t" text-anchor="end">0.4</text>
<text x="83.0" y="207.2" class="t" text-anchor="end">0.6</text>
<text x="83.0" y="150.7" class="t" text-anchor="end">0.8</text>
<text x="81.8" y="94.2" class="t" text-anchor="end">1</text>
<text x="83.0" y="37.8" class="t" text-anchor="end">1.2</text>
<text x="329.9" y="433.6" class="l" text-anchor="middle" letter-spacing="0.5">PWV<tspan dy="3.6" class="d">−</tspan><tspan dy="-3.6">GOES</tspan><tspan dy="3.6" class="d">−</tspan><tspan dy="-3.6">p24 [mm]</tspan></text>
<text transform="translate(29.4 184.0) rotate(-90)" class="l" text-anchor="middle" letter-spacing="0.35">PWV APEX [mm]</text>
<text x="527.2" y="352.2" class="l">a)</text>
</g>
<g>
<line x1="824.5" y1="0.6" x2="824.5" y2="367.5" class="g" stroke-dashoffset="2.3"/>
<line x1="928.5" y1="0.6" x2="928.5" y2="367.5" class="g" stroke-dashoffset="2.3"/>
<line x1="1032.6" y1="0.6" x2="1032.6" y2="367.5" class="g" stroke-dashoffset="2.3"/>
<line x1="1136.6" y1="0.6" x2="1136.6" y2="367.5" class="g" stroke-dashoffset="2.3"/>
<line x1="720.5" y1="311.1" x2="1199.0" y2="311.1" class="g"/>
<line x1="720.5" y1="254.6" x2="1199.0" y2="254.6" class="g"/>
<line x1="720.5" y1="198.2" x2="1199.0" y2="198.2" class="g"/>
<line x1="720.5" y1="141.7" x2="1199.0" y2="141.7" class="g"/>
<line x1="720.5" y1="85.2" x2="1199.0" y2="85.2" class="g"/>
<line x1="720.5" y1="28.8" x2="1199.0" y2="28.8" class="g"/>
<line x1="720.5" y1="367.5" x2="989.9" y2="0.6" stroke="#000" stroke-width="5.7"/>
<path d="M765.3 44.3h21.5M776.1 33.5v21.5M768.5 36.7l15.2 15.2M768.5 51.9l15.2 -15.2M767.0 50.1h21.5M777.7 39.4v21.5M770.1 42.5l15.2 15.2M770.1 57.7l15.2 -15.2M782.1 38.4h21.5M792.8 27.7v21.5M785.2 30.8l15.2 15.2M785.2 46.0l15.2 -15.2M798.8 37.6h21.5M809.5 26.8v21.5M801.9 30.0l15.2 15.2M801.9 45.2l15.2 -15.2M812.2 52.6h21.5M822.9 41.9v21.5M815.3 45.0l15.2 15.2M815.3 60.2l15.2 -15.2M762.5 70.2h21.5M773.2 59.5v21.5M765.6 62.6l15.2 15.2M765.6 77.8l15.2 -15.2M835.6 54.3h21.5M846.4 43.6v21.5M838.8 46.7l15.2 15.2M838.8 61.9l15.2 -15.2M842.3 61.0h21.5M853.1 50.3v21.5M845.5 53.4l15.2 15.2M845.5 68.6l15.2 -15.2M834.8 73.6h21.5M845.5 62.8v21.5M837.9 66.0l15.2 15.2M837.9 81.2l15.2 -15.2M838.1 78.6h21.5M848.9 67.8v21.5M841.3 71.0l15.2 15.2M841.3 86.2l15.2 -15.2M848.2 81.9h21.5M858.9 71.2v21.5M851.3 74.3l15.2 15.2M851.3 89.5l15.2 -15.2M839.8 85.3h21.5M850.5 74.5v21.5M842.9 77.7l15.2 15.2M842.9 92.9l15.2 -15.2M865.7 75.2h21.5M876.5 64.5v21.5M868.9 67.6l15.2 15.2M868.9 82.8l15.2 -15.2M859.9 81.9h21.5M870.6 71.2v21.5M863.0 74.3l15.2 15.2M863.0 89.5l15.2 -15.2M882.5 30.9h21.5M893.2 20.1v21.5M885.6 23.3l15.2 15.2M885.6 38.5l15.2 -15.2M887.5 36.7h21.5M898.2 26.0v21.5M890.6 29.1l15.2 15.2M890.6 44.3l15.2 -15.2M881.6 61.0h21.5M892.4 50.3v21.5M884.8 53.4l15.2 15.2M884.8 68.6l15.2 -15.2M889.2 65.2h21.5M899.9 54.4v21.5M892.3 57.6l15.2 15.2M892.3 72.8l15.2 -15.2M731.0 96.5h21.5M741.8 85.8v21.5M734.2 88.9l15.2 15.2M734.2 104.1l15.2 -15.2M734.4 107.4h21.5M745.1 96.6v21.5M737.5 99.8l15.2 15.2M737.5 115.0l15.2 -15.2M736.9 115.8h21.5M747.6 105.0v21.5M740.0 108.2l15.2 15.2M740.0 123.4l15.2 -15.2M739.4 122.5h21.5M750.1 111.7v21.5M742.5 114.9l15.2 15.2M742.5 130.1l15.2 -15.2M741.9 145.9h21.5M752.6 135.1v21.5M745.0 138.3l15.2 15.2M745.0 153.5l15.2 -15.2M747.7 157.6h21.5M758.5 146.8v21.5M750.9 150.0l15.2 15.2M750.9 165.2l15.2 -15.2M741.0 152.6h21.5M751.8 141.8v21.5M744.2 145.0l15.2 15.2M744.2 160.2l15.2 -15.2M773.2 94.0h21.5M783.9 83.2v21.5M776.3 86.4l15.2 15.2M776.3 101.6l15.2 -15.2M799.6 117.4h21.5M810.4 106.7v21.5M802.8 109.8l15.2 15.2M802.8 125.0l15.2 -15.2M823.1 120.8h21.5M833.8 110.0v21.5M826.2 113.2l15.2 15.2M826.2 128.4l15.2 -15.2M836.4 131.7h21.5M847.2 120.9v21.5M839.6 124.1l15.2 15.2M839.6 139.3l15.2 -15.2M815.5 94.0h21.5M826.3 83.2v21.5M818.7 86.4l15.2 15.2M818.7 101.6l15.2 -15.2M859.0 125.0h21.5M869.8 114.2v21.5M862.2 117.4l15.2 15.2M862.2 132.6l15.2 -15.2M873.3 120.8h21.5M884.0 110.0v21.5M876.4 113.2l15.2 15.2M876.4 128.4l15.2 -15.2M872.8 94.8h21.5M883.5 84.1v21.5M875.9 87.2l15.2 15.2M875.9 102.4l15.2 -15.2M893.4 95.7h21.5M904.1 84.9v21.5M896.5 88.1l15.2 15.2M896.5 103.3l15.2 -15.2M901.7 107.4h21.5M912.5 96.6v21.5M904.9 99.8l15.2 15.2M904.9 115.0l15.2 -15.2M891.7 130.8h21.5M902.4 120.1v21.5M894.8 123.2l15.2 15.2M894.8 138.4l15.2 -15.2M777.9 136.7h21.5M788.6 125.9v21.5M781.0 129.1l15.2 15.2M781.0 144.3l15.2 -15.2M776.2 149.2h21.5M786.9 138.5v21.5M779.3 141.6l15.2 15.2M779.3 156.8l15.2 -15.2M771.2 154.3h21.5M781.9 143.5v21.5M774.3 146.6l15.2 15.2M774.3 161.9l15.2 -15.2M779.5 155.9h21.5M790.3 145.2v21.5M782.7 148.3l15.2 15.2M782.7 163.5l15.2 -15.2M799.6 139.2h21.5M810.4 128.4v21.5M802.8 131.6l15.2 15.2M802.8 146.8l15.2 -15.2M803.0 149.2h21.5M813.7 138.5v21.5M806.1 141.6l15.2 15.2M806.1 156.8l15.2 -15.2M809.7 155.9h21.5M820.4 145.2v21.5M812.8 148.3l15.2 15.2M812.8 163.5l15.2 -15.2M855.7 147.6h21.5M866.4 136.8v21.5M858.8 140.0l15.2 15.2M858.8 155.2l15.2 -15.2M843.1 157.6h21.5M853.9 146.8v21.5M846.3 150.0l15.2 15.2M846.3 165.2l15.2 -15.2M851.5 159.3h21.5M862.3 148.5v21.5M854.7 151.7l15.2 15.2M854.7 166.9l15.2 -15.2M873.3 164.3h21.5M884.0 153.5v21.5M876.4 156.7l15.2 15.2M876.4 171.9l15.2 -15.2M906.7 160.9h21.5M917.5 150.2v21.5M909.9 153.3l15.2 15.2M909.9 168.5l15.2 -15.2M833.1 160.9h21.5M843.8 150.2v21.5M836.2 153.3l15.2 15.2M836.2 168.5l15.2 -15.2M819.7 160.9h21.5M830.5 150.2v21.5M822.9 153.3l15.2 15.2M822.9 168.5l15.2 -15.2M738.5 174.7h21.5M749.3 163.9v21.5M741.7 167.1l15.2 15.2M741.7 182.3l15.2 -15.2M741.0 183.1h21.5M751.8 172.3v21.5M744.2 175.5l15.2 15.2M744.2 190.7l15.2 -15.2M726.0 189.8h21.5M736.7 179.0v21.5M729.1 182.2l15.2 15.2M729.1 197.4l15.2 -15.2M724.3 199.8h21.5M735.1 189.0v21.5M727.5 192.2l15.2 15.2M727.5 207.4l15.2 -15.2M747.7 201.5h21.5M758.5 190.7v21.5M750.9 193.9l15.2 15.2M750.9 209.1l15.2 -15.2M753.6 212.4h21.5M764.4 201.6v21.5M756.8 204.8l15.2 15.2M756.8 220.0l15.2 -15.2M782.1 193.1h21.5M792.8 182.4v21.5M785.2 185.5l15.2 15.2M785.2 200.7l15.2 -15.2M781.2 188.1h21.5M792.0 177.3v21.5M784.4 180.5l15.2 15.2M784.4 195.7l15.2 -15.2M799.6 173.0h21.5M810.4 162.3v21.5M802.8 165.4l15.2 15.2M802.8 180.6l15.2 -15.2M804.6 183.1h21.5M815.4 172.3v21.5M807.8 175.5l15.2 15.2M807.8 190.7l15.2 -15.2M819.7 174.7h21.5M830.5 163.9v21.5M822.9 167.1l15.2 15.2M822.9 182.3l15.2 -15.2M731.0 236.6h21.5M741.8 225.9v21.5M734.2 229.0l15.2 15.2M734.2 244.2l15.2 -15.2M747.7 238.3h21.5M758.5 227.5v21.5M750.9 230.7l15.2 15.2M750.9 245.9l15.2 -15.2M773.7 233.3h21.5M784.4 222.5v21.5M776.8 225.7l15.2 15.2M776.8 240.9l15.2 -15.2M787.9 238.3h21.5M798.7 227.5v21.5M791.1 230.7l15.2 15.2M791.1 245.9l15.2 -15.2M801.3 215.7h21.5M812.1 204.9v21.5M804.4 208.1l15.2 15.2M804.4 223.3l15.2 -15.2M813.0 214.9h21.5M823.8 204.1v21.5M816.2 207.3l15.2 15.2M816.2 222.5l15.2 -15.2M816.4 224.9h21.5M827.1 214.2v21.5M819.5 217.3l15.2 15.2M819.5 232.5l15.2 -15.2M821.4 226.6h21.5M832.1 215.8v21.5M824.5 219.0l15.2 15.2M824.5 234.2l15.2 -15.2M829.8 209.8h21.5M840.5 199.1v21.5M832.9 202.2l15.2 15.2M832.9 217.4l15.2 -15.2M843.1 183.1h21.5M853.9 172.3v21.5M846.3 175.5l15.2 15.2M846.3 190.7l15.2 -15.2M851.5 186.4h21.5M862.3 175.7v21.5M854.7 178.8l15.2 15.2M854.7 194.0l15.2 -15.2M856.5 181.4h21.5M867.3 170.6v21.5M859.7 173.8l15.2 15.2M859.7 189.0l15.2 -15.2M878.3 181.4h21.5M889.0 170.6v21.5M881.4 173.8l15.2 15.2M881.4 189.0l15.2 -15.2M880.0 189.8h21.5M890.7 179.0v21.5M883.1 182.2l15.2 15.2M883.1 197.4l15.2 -15.2M878.3 201.5h21.5M889.0 190.7v21.5M881.4 193.9l15.2 15.2M881.4 209.1l15.2 -15.2M883.3 211.5h21.5M894.1 200.8v21.5M886.5 203.9l15.2 15.2M886.5 219.1l15.2 -15.2M885.0 218.2h21.5M895.7 207.5v21.5M888.1 210.6l15.2 15.2M888.1 225.8l15.2 -15.2M859.9 206.5h21.5M870.6 195.7v21.5M863.0 198.9l15.2 15.2M863.0 214.1l15.2 -15.2M856.5 216.5h21.5M867.3 205.8v21.5M859.7 208.9l15.2 15.2M859.7 224.1l15.2 -15.2M851.5 223.2h21.5M862.3 212.5v21.5M854.7 215.6l15.2 15.2M854.7 230.8l15.2 -15.2M859.9 228.3h21.5M870.6 217.5v21.5M863.0 220.6l15.2 15.2M863.0 235.9l15.2 -15.2M843.1 234.9h21.5M853.9 224.2v21.5M846.3 227.3l15.2 15.2M846.3 242.5l15.2 -15.2M873.3 234.9h21.5M884.0 224.2v21.5M876.4 227.3l15.2 15.2M876.4 242.5l15.2 -15.2M900.0 174.7h21.5M910.8 163.9v21.5M903.2 167.1l15.2 15.2M903.2 182.3l15.2 -15.2M898.4 193.1h21.5M909.1 182.4v21.5M901.5 185.5l15.2 15.2M901.5 200.7l15.2 -15.2M906.7 198.1h21.5M917.5 187.4v21.5M909.9 190.5l15.2 15.2M909.9 205.7l15.2 -15.2M901.7 231.6h21.5M912.5 220.8v21.5M904.9 224.0l15.2 15.2M904.9 239.2l15.2 -15.2M737.7 248.7h21.5M748.5 237.9v21.5M740.9 241.1l15.2 15.2M740.9 256.3l15.2 -15.2M736.9 258.7h21.5M747.6 248.0v21.5M740.0 251.1l15.2 15.2M740.0 266.3l15.2 -15.2M738.5 267.1h21.5M749.3 256.4v21.5M741.7 259.5l15.2 15.2M741.7 274.7l15.2 -15.2M744.4 273.8h21.5M755.1 263.0v21.5M747.5 266.2l15.2 15.2M747.5 281.4l15.2 -15.2M751.1 275.5h21.5M761.8 264.7v21.5M754.2 267.9l15.2 15.2M754.2 283.1l15.2 -15.2M732.7 291.4h21.5M743.4 280.6v21.5M735.8 283.8l15.2 15.2M735.8 299.0l15.2 -15.2M735.2 307.3h21.5M745.9 296.5v21.5M738.3 299.7l15.2 15.2M738.3 314.9l15.2 -15.2M764.5 257.9h21.5M775.2 247.1v21.5M767.6 250.3l15.2 15.2M767.6 265.5l15.2 -15.2M779.5 272.1h21.5M790.3 261.4v21.5M782.7 264.5l15.2 15.2M782.7 279.7l15.2 -15.2M776.2 280.5h21.5M786.9 269.7v21.5M779.3 272.9l15.2 15.2M779.3 288.1l15.2 -15.2M782.9 285.5h21.5M793.6 274.8v21.5M786.0 277.9l15.2 15.2M786.0 293.1l15.2 -15.2M789.6 290.5h21.5M800.3 279.8v21.5M792.7 282.9l15.2 15.2M792.7 298.1l15.2 -15.2M766.2 298.9h21.5M776.9 288.2v21.5M769.3 291.3l15.2 15.2M769.3 306.5l15.2 -15.2M764.5 307.3h21.5M775.2 296.5v21.5M767.6 299.7l15.2 15.2M767.6 314.9l15.2 -15.2M774.5 295.6h21.5M785.3 284.8v21.5M777.7 288.0l15.2 15.2M777.7 303.2l15.2 -15.2M798.0 252.0h21.5M808.7 241.3v21.5M801.1 244.4l15.2 15.2M801.1 259.6l15.2 -15.2M813.0 267.1h21.5M823.8 256.4v21.5M816.2 259.5l15.2 15.2M816.2 274.7l15.2 -15.2M811.3 278.8h21.5M822.1 268.1v21.5M814.5 271.2l15.2 15.2M814.5 286.4l15.2 -15.2M813.0 290.5h21.5M823.8 279.8v21.5M816.2 282.9l15.2 15.2M816.2 298.1l15.2 -15.2M824.7 257.9h21.5M835.5 247.1v21.5M827.9 250.3l15.2 15.2M827.9 265.5l15.2 -15.2M838.1 252.0h21.5M848.9 241.3v21.5M841.3 244.4l15.2 15.2M841.3 259.6l15.2 -15.2M833.9 278.0h21.5M844.7 267.2v21.5M837.1 270.4l15.2 15.2M837.1 285.6l15.2 -15.2M851.5 262.1h21.5M862.3 251.3v21.5M854.7 254.5l15.2 15.2M854.7 269.7l15.2 -15.2M859.9 252.0h21.5M870.6 241.3v21.5M863.0 244.4l15.2 15.2M863.0 259.6l15.2 -15.2M853.2 268.8h21.5M863.9 258.0v21.5M856.3 261.2l15.2 15.2M856.3 276.4l15.2 -15.2M880.0 255.4h21.5M890.7 244.6v21.5M883.1 247.8l15.2 15.2M883.1 263.0l15.2 -15.2M895.9 263.8h21.5M906.6 253.0v21.5M899.0 256.2l15.2 15.2M899.0 271.4l15.2 -15.2M859.0 292.2h21.5M869.8 281.5v21.5M862.2 284.6l15.2 15.2M862.2 299.8l15.2 -15.2M844.8 297.2h21.5M855.6 286.5v21.5M848.0 289.6l15.2 15.2M848.0 304.8l15.2 -15.2M833.1 302.3h21.5M843.8 291.5v21.5M836.2 294.6l15.2 15.2M836.2 309.9l15.2 -15.2M919.5 33.4h21.5M930.2 22.6v21.5M922.6 25.8l15.2 15.2M922.6 41.0l15.2 -15.2M921.1 38.4h21.5M931.9 27.7v21.5M924.3 30.8l15.2 15.2M924.3 46.0l15.2 -15.2M939.5 41.8h21.5M950.3 31.0v21.5M942.7 34.2l15.2 15.2M942.7 49.4l15.2 -15.2M941.2 52.6h21.5M952.0 41.9v21.5M944.4 45.0l15.2 15.2M944.4 60.2l15.2 -15.2M942.9 47.6h21.5M953.6 36.9v21.5M946.0 40.0l15.2 15.2M946.0 55.2l15.2 -15.2M924.5 56.8h21.5M935.2 46.1v21.5M927.6 49.2l15.2 15.2M927.6 64.4l15.2 -15.2M973.9 36.7h21.5M984.6 26.0v21.5M977.0 29.1l15.2 15.2M977.0 44.3l15.2 -15.2M964.6 62.7h21.5M975.4 51.9v21.5M967.8 55.1l15.2 15.2M967.8 70.3l15.2 -15.2M941.2 80.3h21.5M952.0 69.5v21.5M944.4 72.6l15.2 15.2M944.4 87.9l15.2 -15.2M999.0 81.9h21.5M1009.7 71.2v21.5M1002.1 74.3l15.2 15.2M1002.1 89.5l15.2 -15.2M1021.6 78.6h21.5M1032.3 67.8v21.5M1024.7 71.0l15.2 15.2M1024.7 86.2l15.2 -15.2M894.4 90.3h21.5M905.1 79.5v21.5M897.5 82.7l15.2 15.2M897.5 97.9l15.2 -15.2M902.7 92.0h21.5M913.5 81.2v21.5M905.9 84.4l15.2 15.2M905.9 99.6l15.2 -15.2M870.9 75.2h21.5M881.7 64.5v21.5M874.1 67.6l15.2 15.2M874.1 82.8l15.2 -15.2M961.3 113.7h21.5M972.1 103.0v21.5M964.4 106.1l15.2 15.2M964.4 121.4l15.2 -15.2M1015.7 121.6h21.5M1026.4 110.9v21.5M1018.8 114.0l15.2 15.2M1018.8 129.2l15.2 -15.2M911.1 112.4h21.5M921.8 101.7v21.5M914.2 104.8l15.2 15.2M914.2 120.0l15.2 -15.2M912.8 119.1h21.5M923.5 108.4v21.5M915.9 111.5l15.2 15.2M915.9 126.7l15.2 -15.2M931.2 118.3h21.5M941.9 107.5v21.5M934.3 110.7l15.2 15.2M934.3 125.9l15.2 -15.2M921.1 134.2h21.5M931.9 123.4v21.5M924.3 126.6l15.2 15.2M924.3 141.8l15.2 -15.2M922.8 140.9h21.5M933.6 130.1v21.5M926.0 133.3l15.2 15.2M926.0 148.5l15.2 -15.2M925.3 150.9h21.5M936.1 140.2v21.5M928.5 143.3l15.2 15.2M928.5 158.5l15.2 -15.2M911.1 160.9h21.5M921.8 150.2v21.5M914.2 153.3l15.2 15.2M914.2 168.5l15.2 -15.2M904.4 164.3h21.5M915.1 153.5v21.5M907.5 156.7l15.2 15.2M907.5 171.9l15.2 -15.2M875.9 97.3h21.5M886.7 86.6v21.5M879.1 89.7l15.2 15.2M879.1 104.9l15.2 -15.2M902.7 95.7h21.5M913.5 84.9v21.5M905.9 88.1l15.2 15.2M905.9 103.3l15.2 -15.2M945.4 178.0h21.5M956.2 167.3v21.5M948.5 170.4l15.2 15.2M948.5 185.6l15.2 -15.2M993.1 189.8h21.5M1003.8 179.0v21.5M996.2 182.2l15.2 15.2M996.2 197.4l15.2 -15.2M988.9 199.0h21.5M999.7 188.2v21.5M992.1 191.4l15.2 15.2M992.1 206.6l15.2 -15.2M1043.3 213.2h21.5M1054.1 202.4v21.5M1046.5 205.6l15.2 15.2M1046.5 220.8l15.2 -15.2M913.6 199.8h21.5M924.4 189.0v21.5M916.8 192.2l15.2 15.2M916.8 207.4l15.2 -15.2M953.8 205.7h21.5M964.5 194.9v21.5M956.9 198.1l15.2 15.2M956.9 213.3l15.2 -15.2M937.0 214.9h21.5M947.8 204.1v21.5M940.2 207.3l15.2 15.2M940.2 222.5l15.2 -15.2M947.9 224.9h21.5M958.7 214.2v21.5M951.1 217.3l15.2 15.2M951.1 232.5l15.2 -15.2M954.6 236.6h21.5M965.4 225.9v21.5M957.8 229.0l15.2 15.2M957.8 244.2l15.2 -15.2M980.5 232.4h21.5M991.3 221.7v21.5M983.7 224.8l15.2 15.2M983.7 240.0l15.2 -15.2M882.6 201.5h21.5M893.4 190.7v21.5M885.8 193.9l15.2 15.2M885.8 209.1l15.2 -15.2M881.0 221.6h21.5M891.7 210.8v21.5M884.1 214.0l15.2 15.2M884.1 229.2l15.2 -15.2M914.4 226.6h21.5M925.2 215.8v21.5M917.6 219.0l15.2 15.2M917.6 234.2l15.2 -15.2M919.5 234.9h21.5M930.2 224.2v21.5M922.6 227.3l15.2 15.2M922.6 242.5l15.2 -15.2M926.2 219.9h21.5M936.9 209.1v21.5M929.3 212.3l15.2 15.2M929.3 227.5l15.2 -15.2M965.1 263.3h21.5M975.9 252.5v21.5M968.3 255.7l15.2 15.2M968.3 270.9l15.2 -15.2M916.9 250.4h21.5M927.7 239.6v21.5M920.1 242.8l15.2 15.2M920.1 258.0l15.2 -15.2M874.3 248.7h21.5M885.0 237.9v21.5M877.4 241.1l15.2 15.2M877.4 256.3l15.2 -15.2M954.6 243.7h21.5M965.4 232.9v21.5M957.8 236.1l15.2 15.2M957.8 251.3l15.2 -15.2M1131.5 63.4h21.5M1142.3 52.6v21.5M1134.7 55.8l15.2 15.2M1134.7 71.0l15.2 -15.2M778.8 319.3h21.5M789.5 308.6v21.5M781.9 311.7l15.2 15.2M781.9 326.9l15.2 -15.2M850.0 322.5h21.5M860.8 311.8v21.5M853.2 314.9l15.2 15.2M853.2 330.1l15.2 -15.2" fill="none" stroke="#000" stroke-width="5"/>
<rect x="720.5" y="0.6" width="478.5" height="366.9" fill="none" stroke="#000" stroke-width="1.5"/>
<path d="M824.5 367.5v-5M824.5 0.6v5M928.5 367.5v-5M928.5 0.6v5M1032.6 367.5v-5M1032.6 0.6v5M1136.6 367.5v-5M1136.6 0.6v5M720.5 311.1h5M1199.0 311.1h-5M720.5 254.6h5M1199.0 254.6h-5M720.5 198.2h5M1199.0 198.2h-5M720.5 141.7h5M1199.0 141.7h-5M720.5 85.2h5M1199.0 85.2h-5M720.5 28.8h5M1199.0 28.8h-5" stroke="#000" stroke-width="1.2" fill="none"/>
<text x="720.5" y="397.6" class="t" text-anchor="middle">0</text>
<text x="824.5" y="397.6" class="t" text-anchor="middle">0.5</text>
<text x="926.7" y="397.6" class="t" text-anchor="middle">1</text>
<text x="1032.6" y="397.6" class="t" text-anchor="middle">1.5</text>
<text x="1136.6" y="397.6" class="t" text-anchor="middle">2</text>
<text x="713.0" y="376.5" class="t" text-anchor="end">0</text>
<text x="713.0" y="320.1" class="t" text-anchor="end">0.2</text>
<text x="713.0" y="263.6" class="t" text-anchor="end">0.4</text>
<text x="713.0" y="207.2" class="t" text-anchor="end">0.6</text>
<text x="713.0" y="150.7" class="t" text-anchor="end">0.8</text>
<text x="711.8" y="94.2" class="t" text-anchor="end">1</text>
<text x="713.0" y="37.8" class="t" text-anchor="end">1.2</text>
<text x="959.8" y="433.6" class="l" text-anchor="middle" letter-spacing="0.5">PWV<tspan dy="3.6" class="d">−</tspan><tspan dy="-3.6">GOES</tspan><tspan dy="3.6" class="d">−</tspan><tspan dy="-3.6">p24 [mm]</tspan></text>
<text transform="translate(659.3 184.0) rotate(-90)" class="l" text-anchor="middle" letter-spacing="0.35">PWV RHUBC<tspan dy="3.6" class="d">−</tspan><tspan dy="-3.6">II [mm]</tspan></text>
<text x="1157.7" y="352.2" class="l">b)</text>
</g>
</svg>
</body></html>
